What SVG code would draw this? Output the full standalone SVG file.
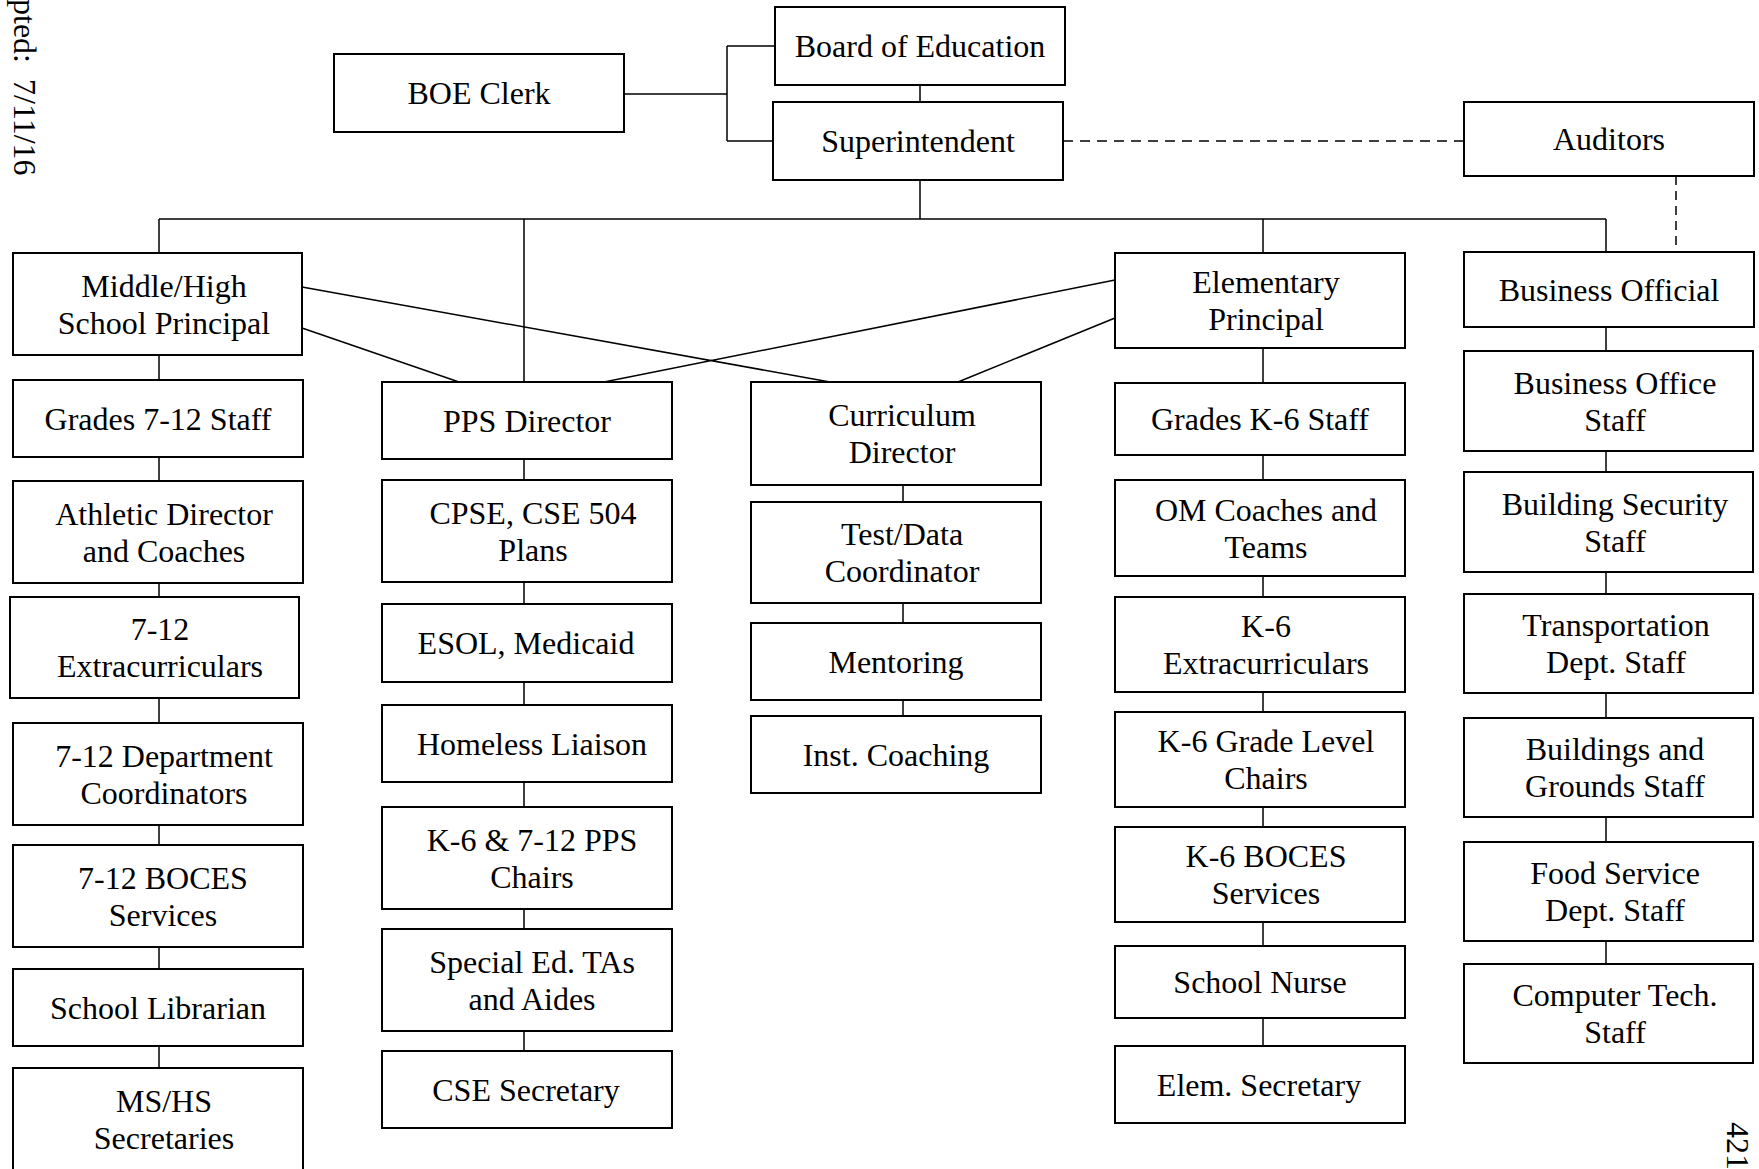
<svg xmlns="http://www.w3.org/2000/svg" width="1759" height="1169" viewBox="0 0 1759 1169">
<style>
.box{fill:#fff;stroke:#000;stroke-width:2}
.t{font-family:"Liberation Serif","Times New Roman",serif;font-size:32px;text-anchor:middle;fill:#000}
.side{font-family:"Liberation Serif","Times New Roman",serif;font-size:32px;fill:#000}
.c{stroke:#000;stroke-width:1.5;fill:none}
.dh{stroke-dasharray:10 7}
.dv{stroke-dasharray:9 6}
</style>
<rect width="1759" height="1169" fill="#fff"/>
<text class="side" transform="translate(14,-1) rotate(90)">pted: <tspan dx="8">7/11/16</tspan></text>
<text class="side" transform="translate(1727,1122) rotate(90)">421</text>
<g id="connectors">
<path class="c" d="M624,94H727M727,46V141M727,46H775M727,141H773"/>
<path class="c" d="M920,85V102M920,180V219M159,219H1606M159,219V253M524,219V382M1263,219V253M1606,219V252"/>
<path class="c dh" d="M1063,141H1464"/>
<path class="c dv" d="M1676,176V252"/>
<path class="c" d="M302,287L830,382M302,328L459,382M1115,280L604,382M1115,318L958,382"/>
<path class="c" d="M159,355V380M159,457V481M159,583V597M159,698V723M159,825V845M159,947V969M159,1046V1068"/>
<path class="c" d="M524,459V480M524,582V604M524,682V705M524,782V807M524,909V929M524,1031V1051"/>
<path class="c" d="M903,485V502M903,603V623M903,700V716"/>
<path class="c" d="M1263,348V383M1263,455V480M1263,576V597M1263,692V712M1263,807V827M1263,922V946M1263,1018V1046"/>
<path class="c" d="M1606,327V351M1606,451V472M1606,572V594M1606,693V718M1606,817V842M1606,941V964"/>
</g>
<g id="n-boe-clerk"><rect class="box" x="334" y="54" width="290" height="78"/><text class="t" x="479" y="104">BOE Clerk</text></g>
<g id="n-board"><rect class="box" x="775" y="7" width="290" height="78"/><text class="t" x="920" y="57">Board of Education</text></g>
<g id="n-super"><rect class="box" x="773" y="102" width="290" height="78"/><text class="t" x="918" y="152">Superintendent</text></g>
<g id="n-auditors"><rect class="box" x="1464" y="102" width="290" height="74"/><text class="t" x="1609" y="150">Auditors</text></g>
<g id="n-mhsp"><rect class="box" x="13" y="253" width="289" height="102"/><text class="t" x="164" y="296.5">Middle/High</text><text class="t" x="164" y="333.5">School Principal</text></g>
<g id="n-ep"><rect class="box" x="1115" y="253" width="290" height="95"/><text class="t" x="1266" y="293">Elementary</text><text class="t" x="1266" y="330">Principal</text></g>
<g id="n-bo"><rect class="box" x="1464" y="252" width="290" height="75"/><text class="t" x="1609" y="300.5">Business Official</text></g>
<g id="n-g712"><rect class="box" x="13" y="380" width="290" height="77"/><text class="t" x="158" y="429.5">Grades 7-12 Staff</text></g>
<g id="n-athletic"><rect class="box" x="13" y="481" width="290" height="102"/><text class="t" x="164" y="524.5">Athletic Director</text><text class="t" x="164" y="561.5">and Coaches</text></g>
<g id="n-712extra"><rect class="box" x="10" y="597" width="289" height="101"/><text class="t" x="160" y="640">7-12</text><text class="t" x="160" y="677">Extracurriculars</text></g>
<g id="n-712dept"><rect class="box" x="13" y="723" width="290" height="102"/><text class="t" x="164" y="766.5">7-12 Department</text><text class="t" x="164" y="803.5">Coordinators</text></g>
<g id="n-712boces"><rect class="box" x="13" y="845" width="290" height="102"/><text class="t" x="163" y="888.5">7-12 BOCES</text><text class="t" x="163" y="925.5">Services</text></g>
<g id="n-librarian"><rect class="box" x="13" y="969" width="290" height="77"/><text class="t" x="158" y="1018.5">School Librarian</text></g>
<g id="n-mshs"><rect class="box" x="13" y="1068" width="290" height="102"/><text class="t" x="164" y="1111.5">MS/HS</text><text class="t" x="164" y="1148.5">Secretaries</text></g>
<g id="n-pps"><rect class="box" x="382" y="382" width="290" height="77"/><text class="t" x="527" y="431.5">PPS Director</text></g>
<g id="n-cpse"><rect class="box" x="382" y="480" width="290" height="102"/><text class="t" x="533" y="523.5">CPSE, CSE 504</text><text class="t" x="533" y="560.5">Plans</text></g>
<g id="n-esol"><rect class="box" x="382" y="604" width="290" height="78"/><text class="t" x="526" y="654">ESOL, Medicaid</text></g>
<g id="n-homeless"><rect class="box" x="382" y="705" width="290" height="77"/><text class="t" x="532" y="754.5">Homeless Liaison</text></g>
<g id="n-ppschairs"><rect class="box" x="382" y="807" width="290" height="102"/><text class="t" x="532" y="850.5">K-6 &amp; 7-12 PPS</text><text class="t" x="532" y="887.5">Chairs</text></g>
<g id="n-sped"><rect class="box" x="382" y="929" width="290" height="102"/><text class="t" x="532" y="972.5">Special Ed. TAs</text><text class="t" x="532" y="1009.5">and Aides</text></g>
<g id="n-csesec"><rect class="box" x="382" y="1051" width="290" height="77"/><text class="t" x="526" y="1100.5">CSE Secretary</text></g>
<g id="n-cd"><rect class="box" x="751" y="382" width="290" height="103"/><text class="t" x="902" y="426">Curriculum</text><text class="t" x="902" y="463">Director</text></g>
<g id="n-testdata"><rect class="box" x="751" y="502" width="290" height="101"/><text class="t" x="902" y="545">Test/Data</text><text class="t" x="902" y="582">Coordinator</text></g>
<g id="n-mentoring"><rect class="box" x="751" y="623" width="290" height="77"/><text class="t" x="896" y="672.5">Mentoring</text></g>
<g id="n-instcoach"><rect class="box" x="751" y="716" width="290" height="77"/><text class="t" x="896" y="765.5">Inst. Coaching</text></g>
<g id="n-gk6"><rect class="box" x="1115" y="383" width="290" height="72"/><text class="t" x="1260" y="430">Grades K-6 Staff</text></g>
<g id="n-om"><rect class="box" x="1115" y="480" width="290" height="96"/><text class="t" x="1266" y="520.5">OM Coaches and</text><text class="t" x="1266" y="557.5">Teams</text></g>
<g id="n-k6extra"><rect class="box" x="1115" y="597" width="290" height="95"/><text class="t" x="1266" y="637">K-6</text><text class="t" x="1266" y="674">Extracurriculars</text></g>
<g id="n-k6grade"><rect class="box" x="1115" y="712" width="290" height="95"/><text class="t" x="1266" y="752">K-6 Grade Level</text><text class="t" x="1266" y="789">Chairs</text></g>
<g id="n-k6boces"><rect class="box" x="1115" y="827" width="290" height="95"/><text class="t" x="1266" y="867">K-6 BOCES</text><text class="t" x="1266" y="904">Services</text></g>
<g id="n-nurse"><rect class="box" x="1115" y="946" width="290" height="72"/><text class="t" x="1260" y="993">School Nurse</text></g>
<g id="n-elemsec"><rect class="box" x="1115" y="1046" width="290" height="77"/><text class="t" x="1259" y="1095.5">Elem. Secretary</text></g>
<g id="n-bos"><rect class="box" x="1464" y="351" width="289" height="100"/><text class="t" x="1615" y="393.5">Business Office</text><text class="t" x="1615" y="430.5">Staff</text></g>
<g id="n-security"><rect class="box" x="1464" y="472" width="289" height="100"/><text class="t" x="1615" y="514.5">Building Security</text><text class="t" x="1615" y="551.5">Staff</text></g>
<g id="n-transport"><rect class="box" x="1464" y="594" width="289" height="99"/><text class="t" x="1616" y="636">Transportation</text><text class="t" x="1616" y="673">Dept. Staff</text></g>
<g id="n-grounds"><rect class="box" x="1464" y="718" width="289" height="99"/><text class="t" x="1615" y="760">Buildings and</text><text class="t" x="1615" y="797">Grounds Staff</text></g>
<g id="n-food"><rect class="box" x="1464" y="842" width="289" height="99"/><text class="t" x="1615" y="884">Food Service</text><text class="t" x="1615" y="921">Dept. Staff</text></g>
<g id="n-computer"><rect class="box" x="1464" y="964" width="289" height="99"/><text class="t" x="1615" y="1006">Computer Tech.</text><text class="t" x="1615" y="1043">Staff</text></g>
</svg>
